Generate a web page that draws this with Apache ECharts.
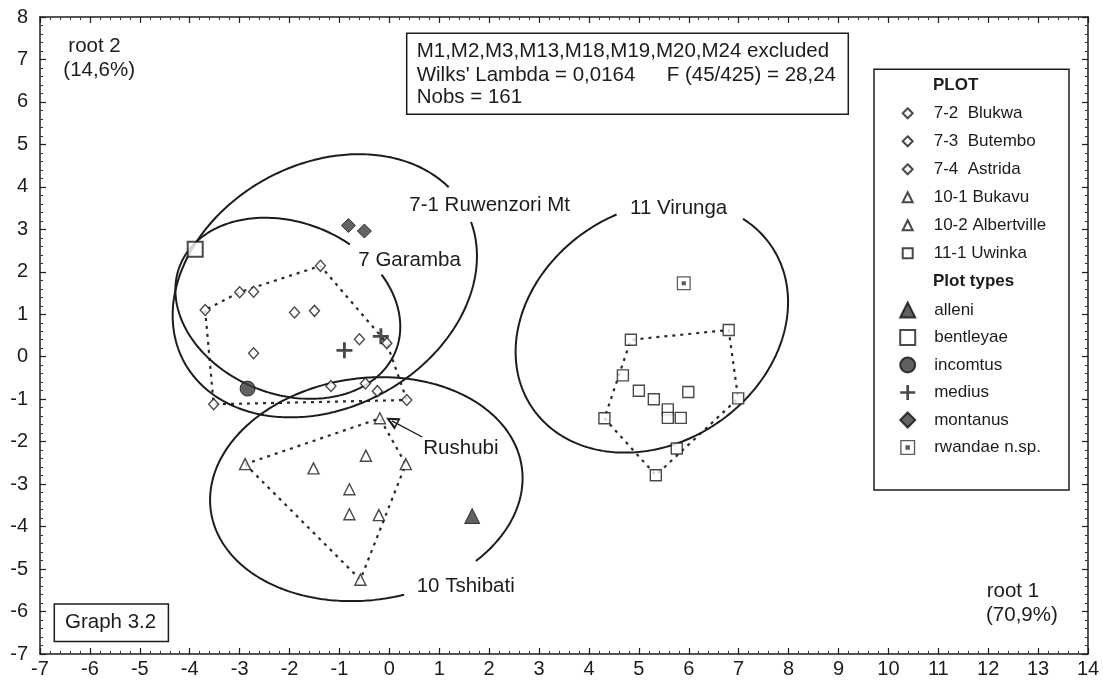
<!DOCTYPE html>
<html>
<head>
<meta charset="utf-8">
<script src="https://cdn.jsdelivr.net/npm/echarts@6/dist/echarts.min.js"></script>
<style>
  html, body { margin: 0; padding: 0; background: #fff; }
  #chart { width: 1103px; height: 682px; }
</style>
</head>
<body>
<div id="chart"></div>
<script>
// Discriminant scores (root 1, root 2) per specimen, grouped by plot symbol
const plot7Scores = [   // 7-2 Blukwa, 7-3 Butembo, 7-4 Astrida
  [-1.38, 2.14], [-3.00, 1.52], [-2.72, 1.53], [-3.69, 1.10], [-1.90, 1.04],
  [-1.50, 1.08], [-2.72, 0.08], [-0.60, 0.41], [-0.05, 0.32], [-1.17, -0.69],
  [-0.48, -0.63], [-0.24, -0.81], [0.35, -1.02], [-3.52, -1.12]
];
const plot10Scores = [  // 10-1 Bukavu, 10-2 Albertville (first one: Rushubi)
  [-0.19, -1.45], [-2.89, -2.53], [-1.52, -2.63], [-0.47, -2.33], [0.33, -2.53],
  [-0.80, -3.12], [-0.80, -3.71], [-0.21, -3.73], [-0.58, -5.25]
];
const plot11Scores = [  // 11-1 Uwinka
  [4.84, 0.40], [6.80, 0.63], [4.68, -0.44], [5.00, -0.80], [5.30, -1.00],
  [5.99, -0.83], [5.58, -1.24], [5.58, -1.44], [5.84, -1.44], [6.99, -0.98],
  [4.31, -1.45], [5.76, -2.16], [5.34, -2.79]
];
// Type specimens
const alleniScores = [[1.66, -3.75]];
const bentleyaeScores = [[-3.89, 2.53]];
const incomtusScores = [[-2.84, -0.75]];
const mediusScores = [[-0.90, 0.15], [-0.17, 0.48]];
const montanusScores = [[-0.82, 3.09], [-0.50, 2.96]];
const rwandaeScores = [[5.90, 1.73]];

// Confidence ellipses: centre and shape matrix [sxx, sxy, syy]
const ellipseNames = ['7-1 Ruwenzori Mt', '7 Garamba', '11 Virunga', '10 Tshibati'];
const ellipseCentres = [[-1.293, 1.671], [-2.034, 1.141], [5.26, 0.70], [-0.461, -3.118]];
const ellipseShapes = [[9.295, 2.124, 9.600], [5.077, -0.974, 4.545], [7.45, 1.60, 8.75], [9.803, 0.801, 6.953]];
// Sector (degrees from the centre) left open where each ellipse is labelled
const ellipseLabelGaps = [[27.3, 43.0], [23.0, 50.3], [54.6, 104.5], [-72.9, -37.9]];

// Arrow pointing at the Rushubi specimen
const rushubiArrow = [[0.66, -1.89], [0.05, -1.51]];

const plotLegend = ['7-2  Blukwa', '7-3  Butembo', '7-4  Astrida', '10-1 Bukavu', '10-2 Albertville', '11-1 Uwinka'];
const typeLegend = ['alleni', 'bentleyae', 'incomtus', 'medius', 'montanus', 'rwandae n.sp.'];

const xRange = [-7, 14];
const yRange = [-7, 8];

const FONT = '"Liberation Sans", Arial, Helvetica, sans-serif';
const INK = '#1c1c1c';

function inSector(a, g) {
  const span = g[1] - g[0];
  const d = ((a - g[0]) % 360 + 360) % 360;
  return d <= span;
}

// Points of an ellipse (via Cholesky factor of its shape matrix), broken at the label gap
function ellipseArc(c, s, gap) {
  const l11 = Math.sqrt(s[0]);
  const l21 = s[1] / l11;
  const l22 = Math.sqrt(s[2] - l21 * l21);
  const n = 720, pts = [], open = [];
  for (let i = 0; i < n; i++) {
    const t = i / n * 2 * Math.PI;
    const dx = l11 * Math.cos(t);
    const dy = l21 * Math.cos(t) + l22 * Math.sin(t);
    pts.push([c[0] + dx, c[1] + dy]);
    open.push(inSector(Math.atan2(dy, dx) * 180 / Math.PI, gap));
  }
  let start = 0;
  for (let i = 0; i < n; i++) {
    if (open[i] && !open[(i + 1) % n]) { start = (i + 1) % n; break; }
  }
  const arc = [];
  for (let k = 0; k < n; k++) {
    const j = (start + k) % n;
    if (open[j]) break;
    arc.push(pts[j]);
  }
  return arc;
}

// Convex hull (monotone chain), closed
function hull(points) {
  const p = points.slice().sort((a, b) => a[0] - b[0] || a[1] - b[1]);
  const cross = (o, a, b) => (a[0] - o[0]) * (b[1] - o[1]) - (a[1] - o[1]) * (b[0] - o[0]);
  const lower = [], upper = [];
  for (const q of p) {
    while (lower.length >= 2 && cross(lower[lower.length - 2], lower[lower.length - 1], q) <= 0) lower.pop();
    lower.push(q);
  }
  for (let i = p.length - 1; i >= 0; i--) {
    const q = p[i];
    while (upper.length >= 2 && cross(upper[upper.length - 2], upper[upper.length - 1], q) <= 0) upper.pop();
    upper.push(q);
  }
  upper.pop(); lower.pop();
  const h = lower.concat(upper);
  h.push(h[0]);
  return h;
}

const hollow = { color: '#fff', borderColor: INK, borderWidth: 1.4 };
const plusPath = 'path://M4.1,0H5.9V4.1H10V5.9H5.9V10H4.1V5.9H0V4.1H4.1Z';
const ringPath = 'path://M0,0H20V20H0Z M1.8,1.8V18.2H18.2V1.8Z M7,7H13V13H7Z';

const series = [];

// dotted hulls
[plot7Scores, plot10Scores, plot11Scores].forEach(pts => {
  series.push({
    type: 'line', data: hull(pts), showSymbol: false, silent: true, z: 2,
    lineStyle: { color: '#2a2a2a', width: 2.2, type: [3, 5] }
  });
});

// ellipses
ellipseNames.forEach((nm, i) => {
  series.push({
    type: 'line', name: nm, data: ellipseArc(ellipseCentres[i], ellipseShapes[i], ellipseLabelGaps[i]),
    showSymbol: false, silent: true, z: 3,
    lineStyle: { color: INK, width: 2 }
  });
});

// Rushubi arrow
series.push({
  type: 'lines', coordinateSystem: 'cartesian2d', silent: true, z: 4,
  symbol: ['none', 'path://M5,0L10,14L0,14Z M5,4.5L2.6,12.4L7.4,12.4Z'],
  symbolSize: [10, 13],
  lineStyle: { color: INK, width: 1.4, opacity: 1 },
  data: [{ coords: rushubiArrow }]
});

// specimen groups
series.push({ type: 'scatter', name: 'plot 7', data: plot7Scores, symbol: 'diamond', symbolSize: [10, 11], itemStyle: hollow, z: 5 });
series.push({ type: 'scatter', name: 'plot 10', data: plot10Scores, symbol: 'triangle', symbolSize: 11, itemStyle: hollow, z: 5 });
series.push({ type: 'scatter', name: 'plot 11', data: plot11Scores, symbol: 'rect', symbolSize: 11, itemStyle: hollow, z: 5 });

// legend entries for the individual plots
const plotSymbols = ['diamond', 'diamond', 'diamond', 'triangle', 'triangle', 'rect'];
plotLegend.forEach((nm, i) => {
  series.push({ type: 'scatter', name: nm, data: [], symbol: plotSymbols[i], itemStyle: hollow });
});

// type specimens
series.push({ type: 'scatter', name: 'alleni', data: alleniScores, symbol: 'triangle', symbolSize: 15,
  itemStyle: { color: '#3a3a3a', borderColor: '#111', borderWidth: 1 }, z: 6 });
series.push({ type: 'scatter', name: 'bentleyae', data: bentleyaeScores, symbol: 'rect', symbolSize: 15,
  itemStyle: { color: '#fff', borderColor: INK, borderWidth: 2 }, z: 6 });
series.push({ type: 'scatter', name: 'incomtus', data: incomtusScores, symbol: 'circle', symbolSize: 15,
  itemStyle: { color: '#3a3a3a', borderColor: '#111', borderWidth: 1 }, z: 6 });
series.push({ type: 'scatter', name: 'medius', data: mediusScores, symbol: plusPath, symbolSize: 16,
  itemStyle: { color: INK }, z: 6 });
series.push({ type: 'scatter', name: 'montanus', data: montanusScores, symbol: 'diamond', symbolSize: 14,
  itemStyle: { color: '#3c3c3c', borderColor: '#111', borderWidth: 1 }, z: 6 });
series.push({ type: 'scatter', name: 'rwandae n.sp.', data: rwandaeScores, symbol: ringPath, symbolSize: 14,
  itemStyle: { color: '#333' }, z: 6 });

function valueAxis(range, position, showLabels, labelMargin) {
  return {
    type: 'value', min: range[0], max: range[1], interval: 1, position: position,
    axisLine: { show: true, onZero: false, lineStyle: { color: INK, width: 1.5 } },
    axisTick: { show: true, inside: true, length: 6, lineStyle: { color: INK, width: 1.2 } },
    minorTick: { show: true, splitNumber: 5, length: 3, lineStyle: { color: '#333', width: 1 } },
    splitLine: { show: false },
    axisLabel: { show: showLabels, fontSize: 20, color: INK, fontFamily: FONT, margin: labelMargin }
  };
}

function txt(text, x, y, size, bold) {
  return {
    type: 'text', x: x, y: y, z: 20, silent: true,
    style: {
      text: text, fill: INK, font: (bold ? 'bold ' : '') + size + 'px ' + FONT,
      align: 'left', verticalAlign: 'middle', textAlign: 'left', textVerticalAlign: 'middle'
    }
  };
}
function box(x, y, w, h) {
  return { type: 'rect', z: 19, silent: true, shape: { x: x, y: y, width: w, height: h },
    style: { fill: 'none', stroke: INK, lineWidth: 1.5 } };
}

const option = {
  animation: false,
  backgroundColor: '#fff',
  grid: { left: 40, right: 15, top: 17, bottom: 28, containLabel: false },
  xAxis: [valueAxis(xRange, 'bottom', true, 5), valueAxis(xRange, 'top', false, 5)],
  yAxis: [valueAxis(yRange, 'left', true, 12), valueAxis(yRange, 'right', false, 12)],
  legend: [
    {
      data: plotLegend, orient: 'vertical', left: 901.7, top: 104.3, padding: 0,
      itemWidth: 10, itemHeight: 10, itemGap: 10, selectedMode: false,
      textStyle: { fontSize: 17, lineHeight: 18, color: INK, fontFamily: FONT, padding: [0, 0, 0, 16] }
    },
    {
      data: typeLegend, orient: 'vertical', left: 899.2, top: 301, padding: 0,
      itemWidth: 15, itemHeight: 15, itemGap: 9.5, selectedMode: false,
      textStyle: { fontSize: 17, lineHeight: 18, color: INK, fontFamily: FONT, padding: [0, 0, 0, 14] }
    }
  ],
  graphic: [
    txt('root 2', 68.3, 46.7, 20.5),
    txt('(14,6%)', 63.3, 70, 20.5),
    box(406.7, 33.3, 441.6, 81),
    txt('M1,M2,M3,M13,M18,M19,M20,M24 excluded', 416.7, 51.7, 20.5),
    txt("Wilks' Lambda = 0,0164", 416.7, 75, 20.5),
    txt('F (45/425) = 28,24', 666.7, 75, 20.5),
    txt('Nobs = 161', 416.7, 97.7, 20.5),
    txt('7-1 Ruwenzori Mt', 409.3, 205, 20.5),
    txt('7 Garamba', 358.3, 260, 20.5),
    txt('11 Virunga', 630, 208.3, 20.5),
    txt('Rushubi', 423.3, 448.3, 20.5),
    txt('10 Tshibati', 416.7, 586.7, 20.5),
    txt('root 1', 986.7, 591.7, 20.5),
    txt('(70,9%)', 986, 615, 20.5),
    box(54.3, 604, 114.1, 37.5),
    txt('Graph 3.2', 65, 622.4, 20.5),
    box(874, 69.3, 195, 420.7),
    txt('PLOT', 933, 85, 17, true),
    txt('Plot types', 933, 281.7, 17, true)
  ],
  series: series
};

const chart = echarts.init(document.getElementById('chart'), null, { renderer: 'canvas' });
chart.setOption(option);
</script>
</body>
</html>
